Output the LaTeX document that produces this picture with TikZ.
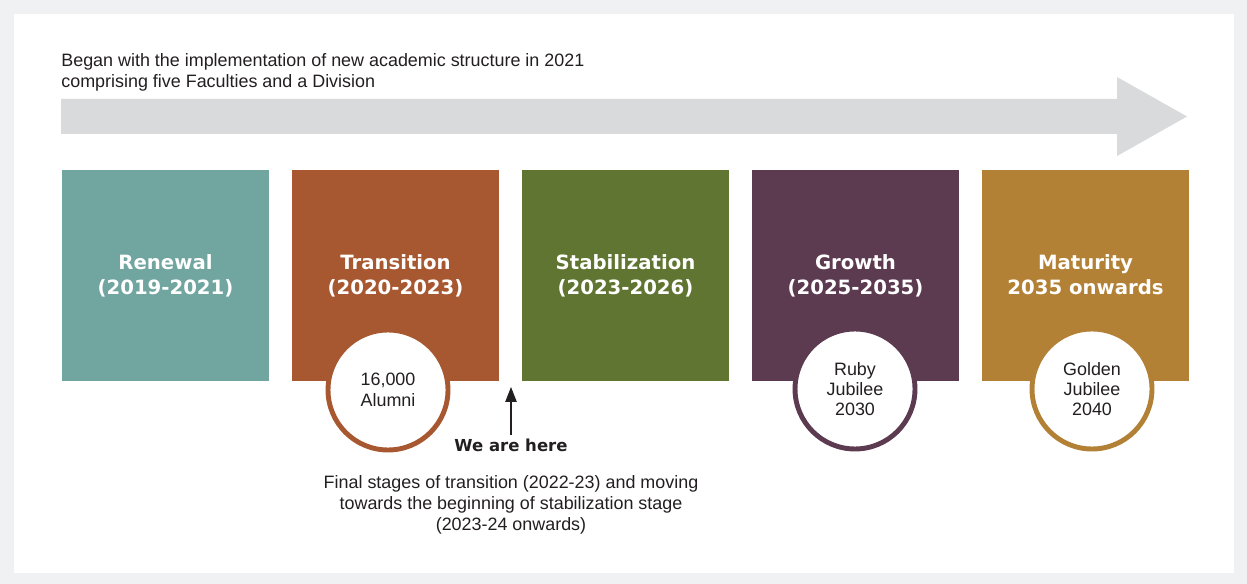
\documentclass[tikz,border=0pt]{standalone}
\usepackage{fontspec}
\setmainfont{Liberation Sans}
\newfontfamily\headfont{DejaVu Sans}
\usetikzlibrary{arrows.meta}

\definecolor{framegray}{HTML}{F0F1F3}
\definecolor{arrowgray}{HTML}{D9DADC}
\definecolor{txt}{HTML}{231F20}
\definecolor{renewal}{HTML}{71A59F}
\definecolor{transition}{HTML}{A85830}
\definecolor{stabil}{HTML}{617532}
\definecolor{growth}{HTML}{5C3A50}
\definecolor{maturity}{HTML}{B38135}

\tikzset{
  stage/.style={rectangle, inner sep=0pt, minimum width=4.14cm, minimum height=4.22cm,
    text=white, align=center, font=\headfont\bfseries\fontsize{11.2}{14.2}\selectfont},
  badge/.style={circle, fill=white, draw=#1, line width=2.8pt, inner sep=0pt,
    minimum size=2.4cm, text=txt, align=center, font=\fontsize{10.2}{11.6}\selectfont},
  body/.style={text=txt, font=\fontsize{10.2}{12.1}\selectfont, inner sep=0pt},
}

\begin{document}
\begin{tikzpicture}[x=0.02cm,y=-0.02cm]
  % frame
  \fill[framegray] (0,0) rectangle (1247,584);
  \fill[white] (14,14) rectangle (1234,573);
  \useasboundingbox (0,0) rectangle (1247,584);

  % timeline arrow
  \fill[arrowgray] (61,99) -- (1117,99) -- (1117,77) -- (1187,116.5)
    -- (1117,156) -- (1117,134) -- (61,134) -- cycle;
  \node[body, align=left, anchor=north west] (intro) at (61,53)
    {Began with the implementation of new academic structure in 2021\\
     comprising five Faculties and a Division};

  % stages
  \node[stage, fill=renewal]    (s1) at (165.5,275.5) {Renewal\\(2019-2021)};
  \node[stage, fill=transition] (s2) at (395.5,275.5) {Transition\\(2020-2023)};
  \node[stage, fill=stabil]     (s3) at (625.5,275.5) {Stabilization\\(2023-2026)};
  \node[stage, fill=growth]     (s4) at (855.5,275.5) {Growth\\(2025-2035)};
  \node[stage, fill=maturity]   (s5) at (1085.5,275.5) {Maturity\\2035 onwards\vphantom{()}};

  % milestones
  \node[badge=transition] (m2) at (388,390) {16,000\\Alumni};
  \node[badge=growth]     (m4) at (855,389) {Ruby\\Jubilee\\2030};
  \node[badge=maturity]   (m5) at (1092,389) {Golden\\Jubilee\\2040};

  % current position marker
  \node[text=txt, inner sep=0pt, anchor=base,
        font=\headfont\bfseries\fontsize{9.4}{11}\selectfont] (here) at (511,451) {We are here};
  \coordinate (tip) at (511,387);
  \draw[txt, line width=0.6pt, -{Triangle[length=8.5pt,width=6.5pt]}]
    (here.north |- 0,435) -- (tip);

  \node[body, align=center, anchor=north] (note) at (511,475)
    {Final stages of transition (2022-23) and moving\\
     towards the beginning of stabilization stage\\
     (2023-24 onwards)};
\end{tikzpicture}
\end{document}
